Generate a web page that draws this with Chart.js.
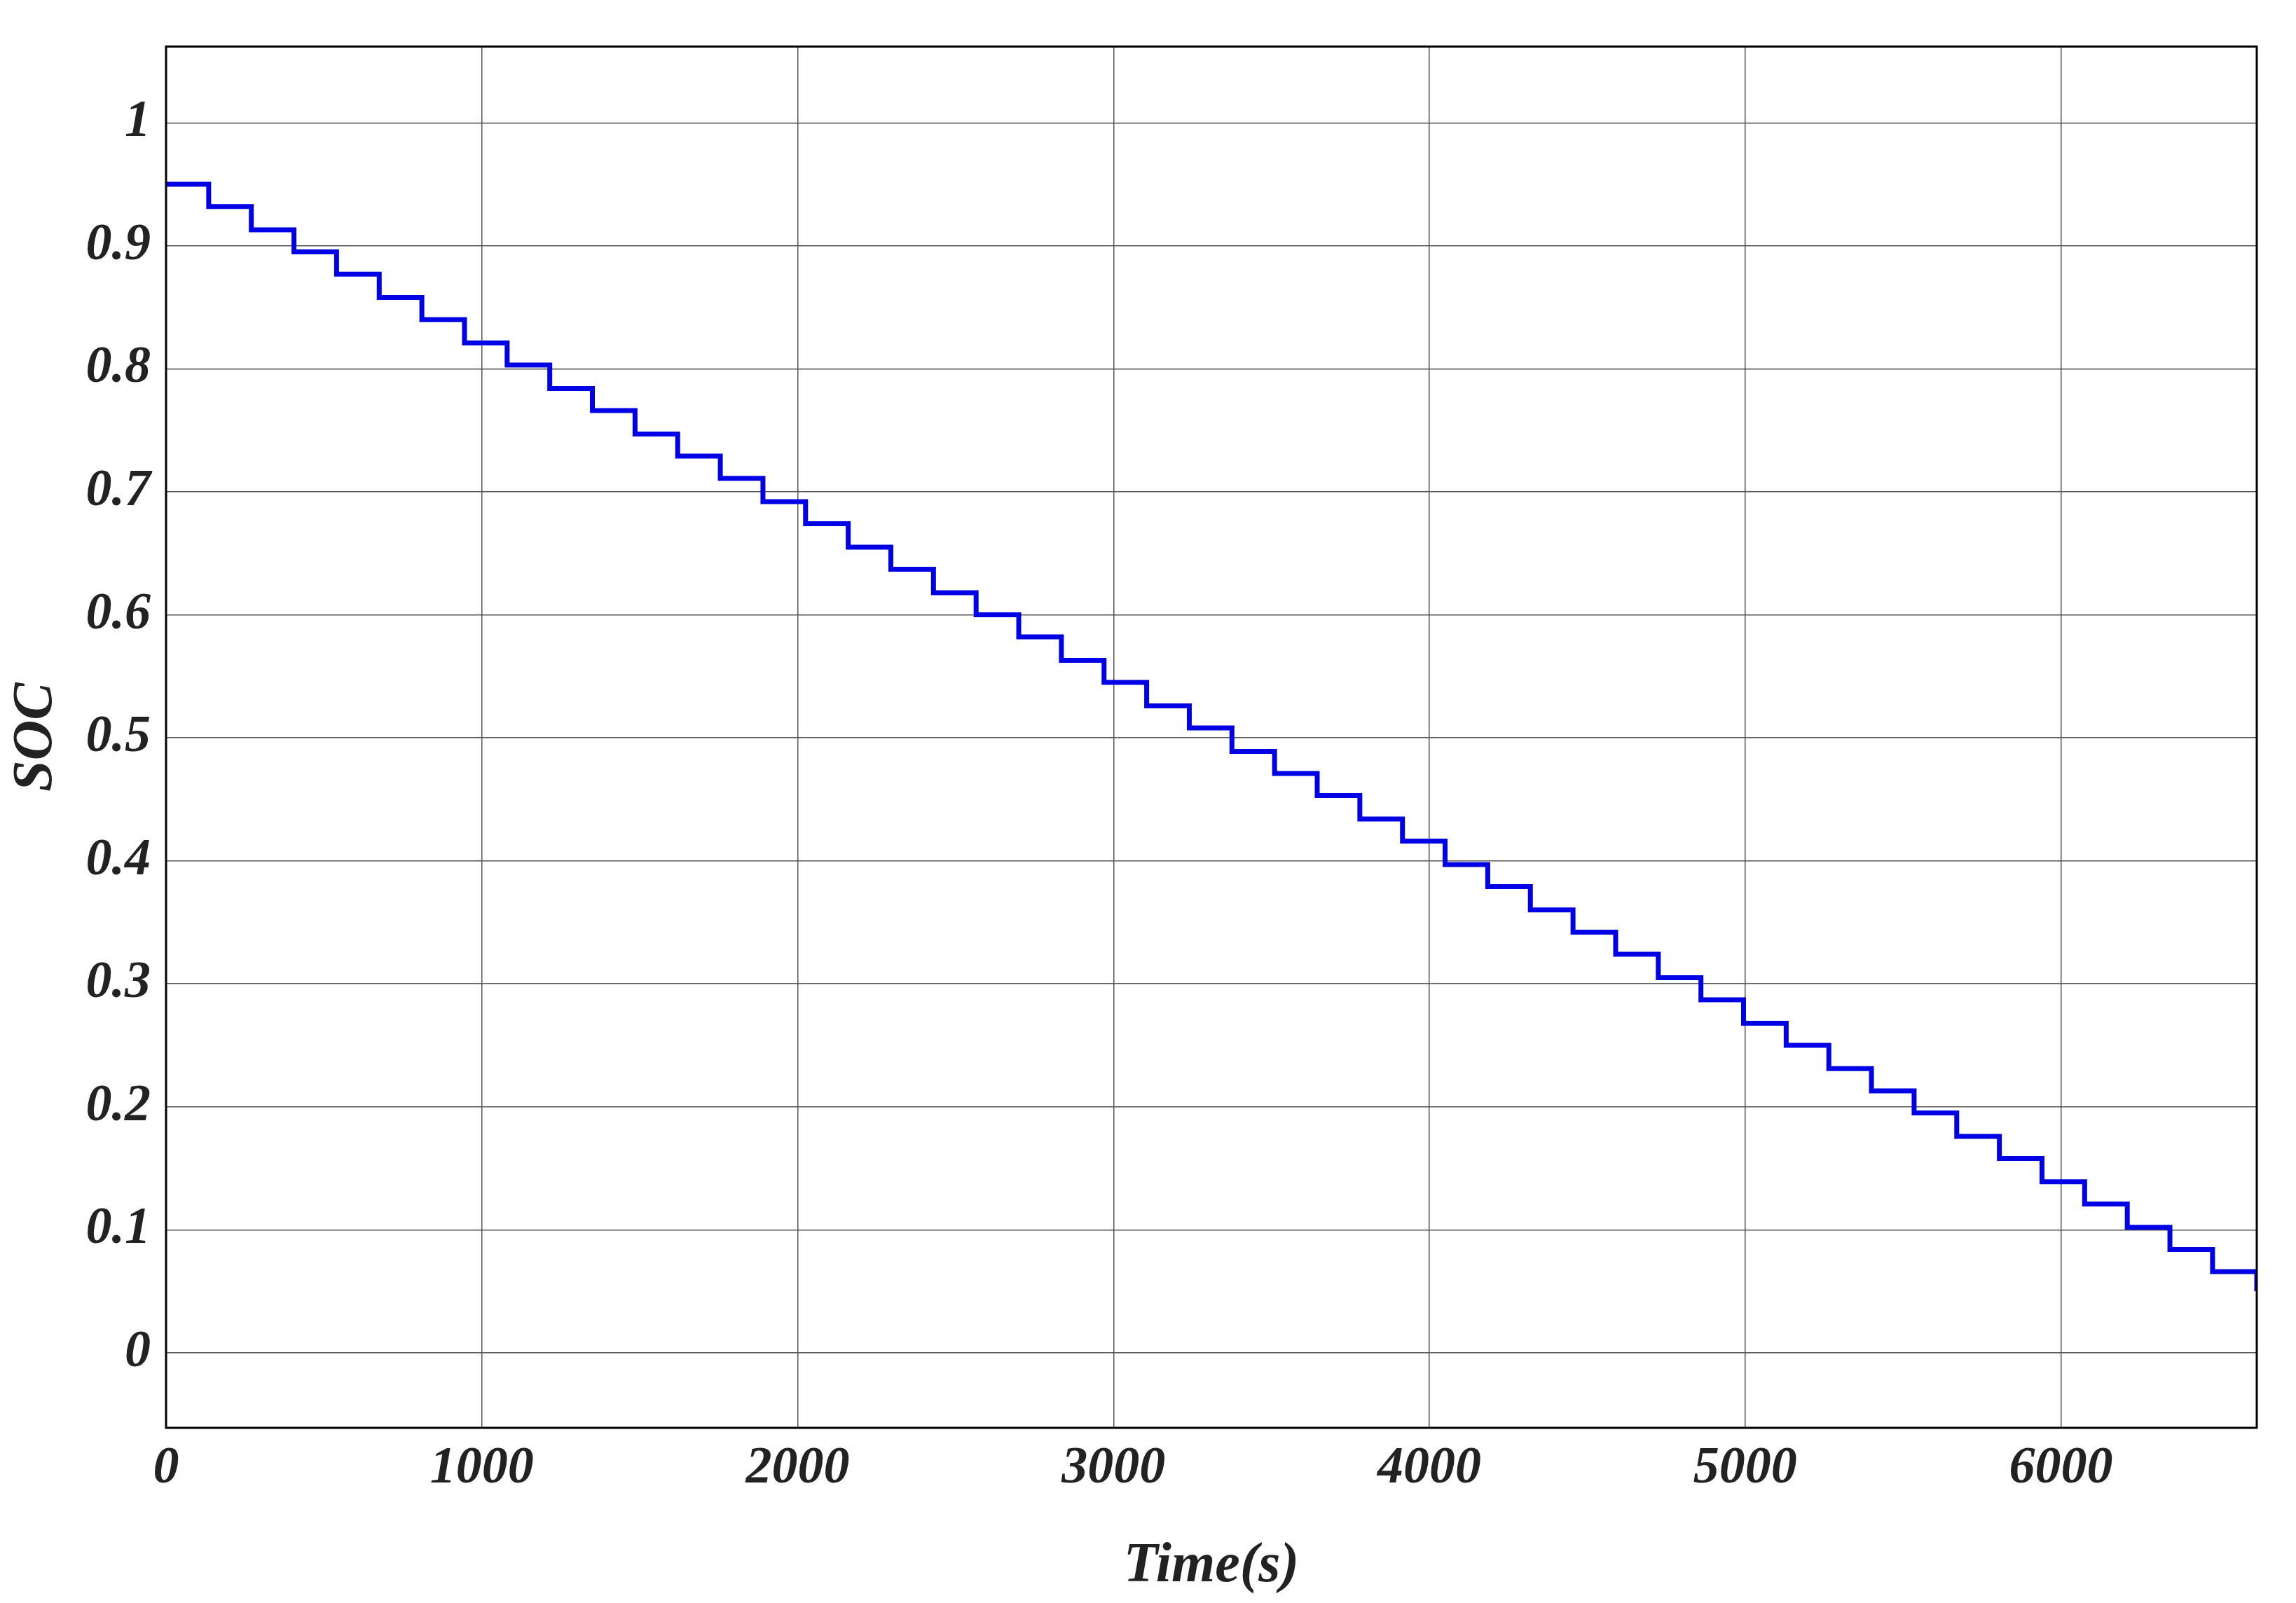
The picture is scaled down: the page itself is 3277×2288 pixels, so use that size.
<!DOCTYPE html>
<html><head><meta charset="utf-8">
<script src="https://cdn.jsdelivr.net/npm/chart.js@4"></script>
<style>html,body{margin:0;padding:0;background:#fff}#w{width:3277px;height:2288px}</style>
</head><body><div id="w"><canvas id="c"></canvas></div>
<script>
const times = [0,135,270,405,540,675,810,945,1080,1215,1350,1485,1620,1755,1890,2025,2160,2295,2430,2565,2700,2835,2970,3105,3240,3375,3510,3645,3780,3915,4050,4185,4320,4455,4590,4725,4860,4995,5130,5265,5400,5535,5670,5805,5940,6075,6210,6345,6480,6620];
const soc = [0.95,0.932,0.913,0.895,0.877,0.858,0.840,0.821,0.803,0.784,0.766,0.747,0.729,0.711,0.692,0.674,0.655,0.637,0.618,0.600,0.582,0.563,0.545,0.526,0.508,0.489,0.471,0.453,0.434,0.416,0.397,0.379,0.360,0.342,0.324,0.305,0.287,0.268,0.250,0.231,0.213,0.195,0.176,0.158,0.139,0.121,0.102,0.084,0.066,0.050];
const xTicks = [0,1000,2000,3000,4000,5000,6000];
const yTicks = [0,0.1,0.2,0.3,0.4,0.5,0.6,0.7,0.8,0.9,1];
const font = {family:'"Liberation Serif", serif', size:74, weight:'bold', style:'italic'};
const frame = {id:'frame', afterDraw(c){const a=c.chartArea,x=c.ctx;x.save();x.strokeStyle='#000';x.lineWidth=3;x.strokeRect(a.left,a.top,a.right-a.left,a.bottom-a.top);x.restore();}};
new Chart(document.getElementById('c'),{
 type:'line',
 data:{datasets:[{data:times.map((t,i)=>({x:t,y:soc[i]})),stepped:true,borderColor:'#0000e6',borderWidth:7,pointRadius:0,fill:false}]},
 options:{responsive:true,maintainAspectRatio:false,animation:false,
  layout:{padding:{left:0,right:56,top:0,bottom:0}},
  plugins:{legend:{display:false},tooltip:{enabled:false}},
  scales:{
   x:{type:'linear',min:0,max:6620,
    afterBuildTicks:s=>{s.ticks=xTicks.map(v=>({value:v}));},
    afterFit:s=>{s.height=250;},
    ticks:{font,color:'#222',padding:14,maxRotation:0,callback:v=>String(v)},
    grid:{color:'#555',lineWidth:1.5,drawTicks:false},border:{display:false},
    title:{display:true,text:'Time(s)',font:{...font,size:80},color:'#222',padding:{top:0}}},
   y:{type:'linear',min:-0.061,max:1.062,
    afterBuildTicks:s=>{s.ticks=yTicks.map(v=>({value:v}));},
    afterFit:s=>{s.width=237;},
    ticks:{font,color:'#222',padding:22,callback:v=>String(Math.round(v*10)/10)},
    grid:{color:'#555',lineWidth:1.5,drawTicks:false},border:{display:false},
    title:{display:true,text:'SOC',font:{...font,size:80},color:'#222',padding:{bottom:0}}}
  }},
 plugins:[frame]
});
</script></body></html>
